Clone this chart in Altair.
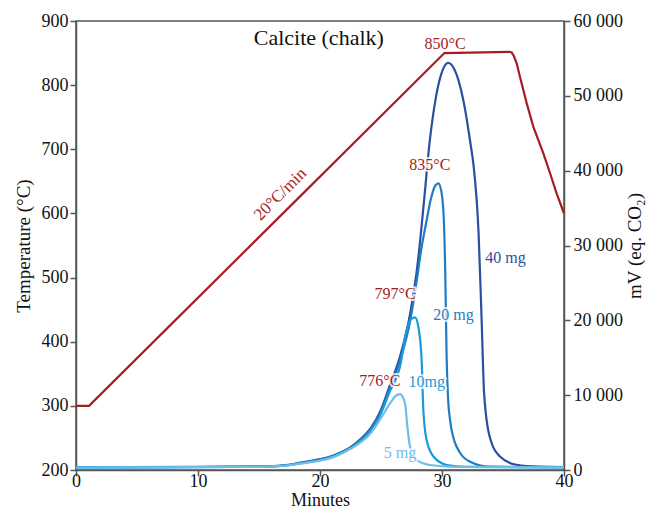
import altair as alt
import pandas as pd

# Temperature programme (left axis)
temp_min = [0, 1.07, 30.2, 35.5, 35.71, 35.9, 36.12, 36.39, 36.94, 37.49, 38.3, 38.85, 39.4, 40.0]
temp_val = [300, 300, 850, 852, 851, 845, 834, 813, 772, 735, 694, 663, 631, 600]

# CO2 signal curves (right axis, mV)
mg40_min = [0, 10, 15, 17, 18.4, 20, 21.1, 22.5, 23.3, 24.2, 24.9, 25.7, 26.6, 27.4, 28.0, 28.5, 29.0, 29.5, 29.9, 30.5, 31.0, 31.75, 32.3, 32.6, 33.0, 33.25, 33.45, 33.9, 34.75, 36.1, 38, 40]
mg40_val = [380, 420, 470, 620, 980, 1450, 1950, 3050, 4100, 5700, 7700, 11200, 15400, 21000, 27500, 35500, 44000, 49800, 52700, 54400, 53600, 49400, 44000, 40500, 31600, 20000, 10300, 4500, 1800, 700, 450, 400]

mg20_min = [0, 10, 15, 17, 18.4, 20, 21.1, 22.5, 23.3, 24.2, 24.9, 25.7, 26.6, 27.4, 27.9, 28.3, 28.7, 29.1, 29.45, 29.7, 29.95, 30.15, 30.27, 30.38, 30.5, 30.66, 31.2, 32.3, 33.9, 40]
mg20_val = [350, 400, 450, 590, 930, 1380, 1880, 2950, 3950, 5500, 7400, 10800, 14800, 20000, 25000, 29500, 33000, 36300, 38000, 38300, 37200, 33500, 26000, 15000, 9500, 6700, 3100, 1100, 450, 370]

mg10_min = [0, 10, 15, 17, 18.4, 20, 21.1, 22.5, 23.3, 24.2, 24.9, 25.7, 26.56, 27.1, 27.5, 27.79, 28.06, 28.33, 28.47, 28.74, 29.3, 30.4, 32, 40]
mg10_val = [340, 390, 440, 570, 900, 1330, 1820, 2900, 3850, 5350, 7200, 10400, 13800, 18700, 20200, 20400, 19150, 14700, 8000, 4000, 1800, 670, 420, 360]

mg5_min = [0, 10, 15, 17, 18.4, 20, 21.1, 22.46, 23.3, 24.2, 24.9, 25.74, 26.2, 26.56, 26.97, 27.16, 27.38, 27.9, 29.0, 31, 40]
mg5_val = [330, 380, 430, 550, 860, 1250, 1720, 2800, 3650, 5000, 6680, 8900, 9900, 10150, 8900, 5800, 3100, 1340, 670, 420, 350]

series_names = ["40 mg", "20 mg", "10mg", "5 mg"]
series_colors = ["#2b4f9f", "#1d7cc4", "#1b9ad9", "#6fbde9"]

# Annotations
temp_lab_text = ["850°C", "835°C", "797°C", "776°C"]
temp_lab_min = [30.25, 29.0, 26.15, 24.9]
temp_lab_val = [864, 675, 474, 338]

mg_lab_text = ["40 mg", "20 mg", "10mg", "5 mg"]
mg_lab_min = [35.2, 30.95, 28.75, 26.55]
mg_lab_val = [28300, 20700, 11800, 2300]

FONT = "Liberation Serif"
RED = "#a51d22"
AX = "#555555"

temp_df = pd.DataFrame({"min": temp_min, "T": temp_val})
frames = []
for name, xs, ys in [("40 mg", mg40_min, mg40_val), ("20 mg", mg20_min, mg20_val),
                     ("10mg", mg10_min, mg10_val), ("5 mg", mg5_min, mg5_val)]:
    frames.append(pd.DataFrame({"min": xs, "mV": ys, "s": name}))
mv_df = pd.concat(frames)
tlab_df = pd.DataFrame({"min": temp_lab_min, "T": temp_lab_val, "txt": temp_lab_text})
mlab_df = pd.DataFrame({"min": mg_lab_min, "mV": mg_lab_val, "txt": mg_lab_text, "s": mg_lab_text})
rate_df = pd.DataFrame({"min": [16.75], "T": [630], "txt": ["20°C/min"]})
title_df = pd.DataFrame({"min": [19.9], "T": [874], "txt": ["Calcite (chalk)"]})

xenc = alt.X("min:Q", scale=alt.Scale(domain=[0, 40], nice=False),
             axis=alt.Axis(title="Minutes", values=[0, 10, 20, 30, 40], tickSize=6,
                           labelFlush=False, labelPadding=-4, titlePadding=1, titleFontSize=18))
yT = alt.Y("T:Q", scale=alt.Scale(domain=[200, 900], nice=False),
           axis=alt.Axis(title="Temperature (°C)", orient="left",
                         values=[200, 300, 400, 500, 600, 700, 800, 900], tickSize=6,
                         labelPadding=2, titlePadding=8))
yM = alt.Y("mV:Q", scale=alt.Scale(domain=[0, 60000], nice=False),
           axis=alt.Axis(title="mV (eq. CO₂)", orient="right",
                         values=[0, 10000, 20000, 30000, 40000, 50000, 60000], tickSize=6,
                         labelPadding=3, titlePadding=22, titleAngle=270,
                         labelExpr="replace(format(datum.value, ','), ',', ' ')"))

colscale = alt.Scale(domain=series_names, range=series_colors)

temp_line = alt.Chart(temp_df).mark_line(color=RED, strokeWidth=2.2).encode(x=xenc, y=yT)
halo = alt.Chart(tlab_df).mark_text(font=FONT, fontSize=16, color="white", stroke="white",
                                     strokeWidth=4, strokeOpacity=0.8).encode(x=xenc, y=yT, text="txt:N")
tlabels = alt.Chart(tlab_df).mark_text(font=FONT, fontSize=16, color=RED).encode(x=xenc, y=yT, text="txt:N")
rate = alt.Chart(rate_df).mark_text(font=FONT, fontSize=17, color=RED, angle=315).encode(x=xenc, y=yT, text="txt:N")
ttl = alt.Chart(title_df).mark_text(font=FONT, fontSize=22, color="#111").encode(x=xenc, y=yT, text="txt:N")
left = alt.layer(temp_line, halo, tlabels, rate, ttl)

mv_lines = alt.Chart(mv_df).mark_line(strokeWidth=2.2, interpolate="monotone").encode(
    x=xenc, y=yM,
    color=alt.Color("s:N", scale=colscale, legend=None))
mhalo = alt.Chart(mlab_df).mark_text(font=FONT, fontSize=16, color="white", stroke="white",
                                      strokeWidth=4, strokeOpacity=0.8).encode(x=xenc, y=yM, text="txt:N")
mlabels = alt.Chart(mlab_df).mark_text(font=FONT, fontSize=16).encode(
    x=xenc, y=yM, text="txt:N", color=alt.Color("s:N", scale=colscale, legend=None))
right = alt.layer(mv_lines, mhalo, mlabels)

chart = alt.layer(right, left).resolve_scale(y="independent").properties(
    width=488, height=449,
    autosize=alt.AutoSizeParams(type="none"),
    padding={"left": 68, "top": 13, "right": 82, "bottom": 38},
).configure_view(stroke=AX, strokeWidth=1.5).configure_axis(
    domainColor=AX, tickColor=AX, domainWidth=1.5, tickWidth=1.5, grid=False,
    labelFont=FONT, titleFont=FONT, labelFontSize=18, titleFontSize=19,
    labelColor="#111", titleColor="#111", titleFontWeight="normal",
)

chart.save("out.html", embed_options={"renderer": "svg", "actions": False})
